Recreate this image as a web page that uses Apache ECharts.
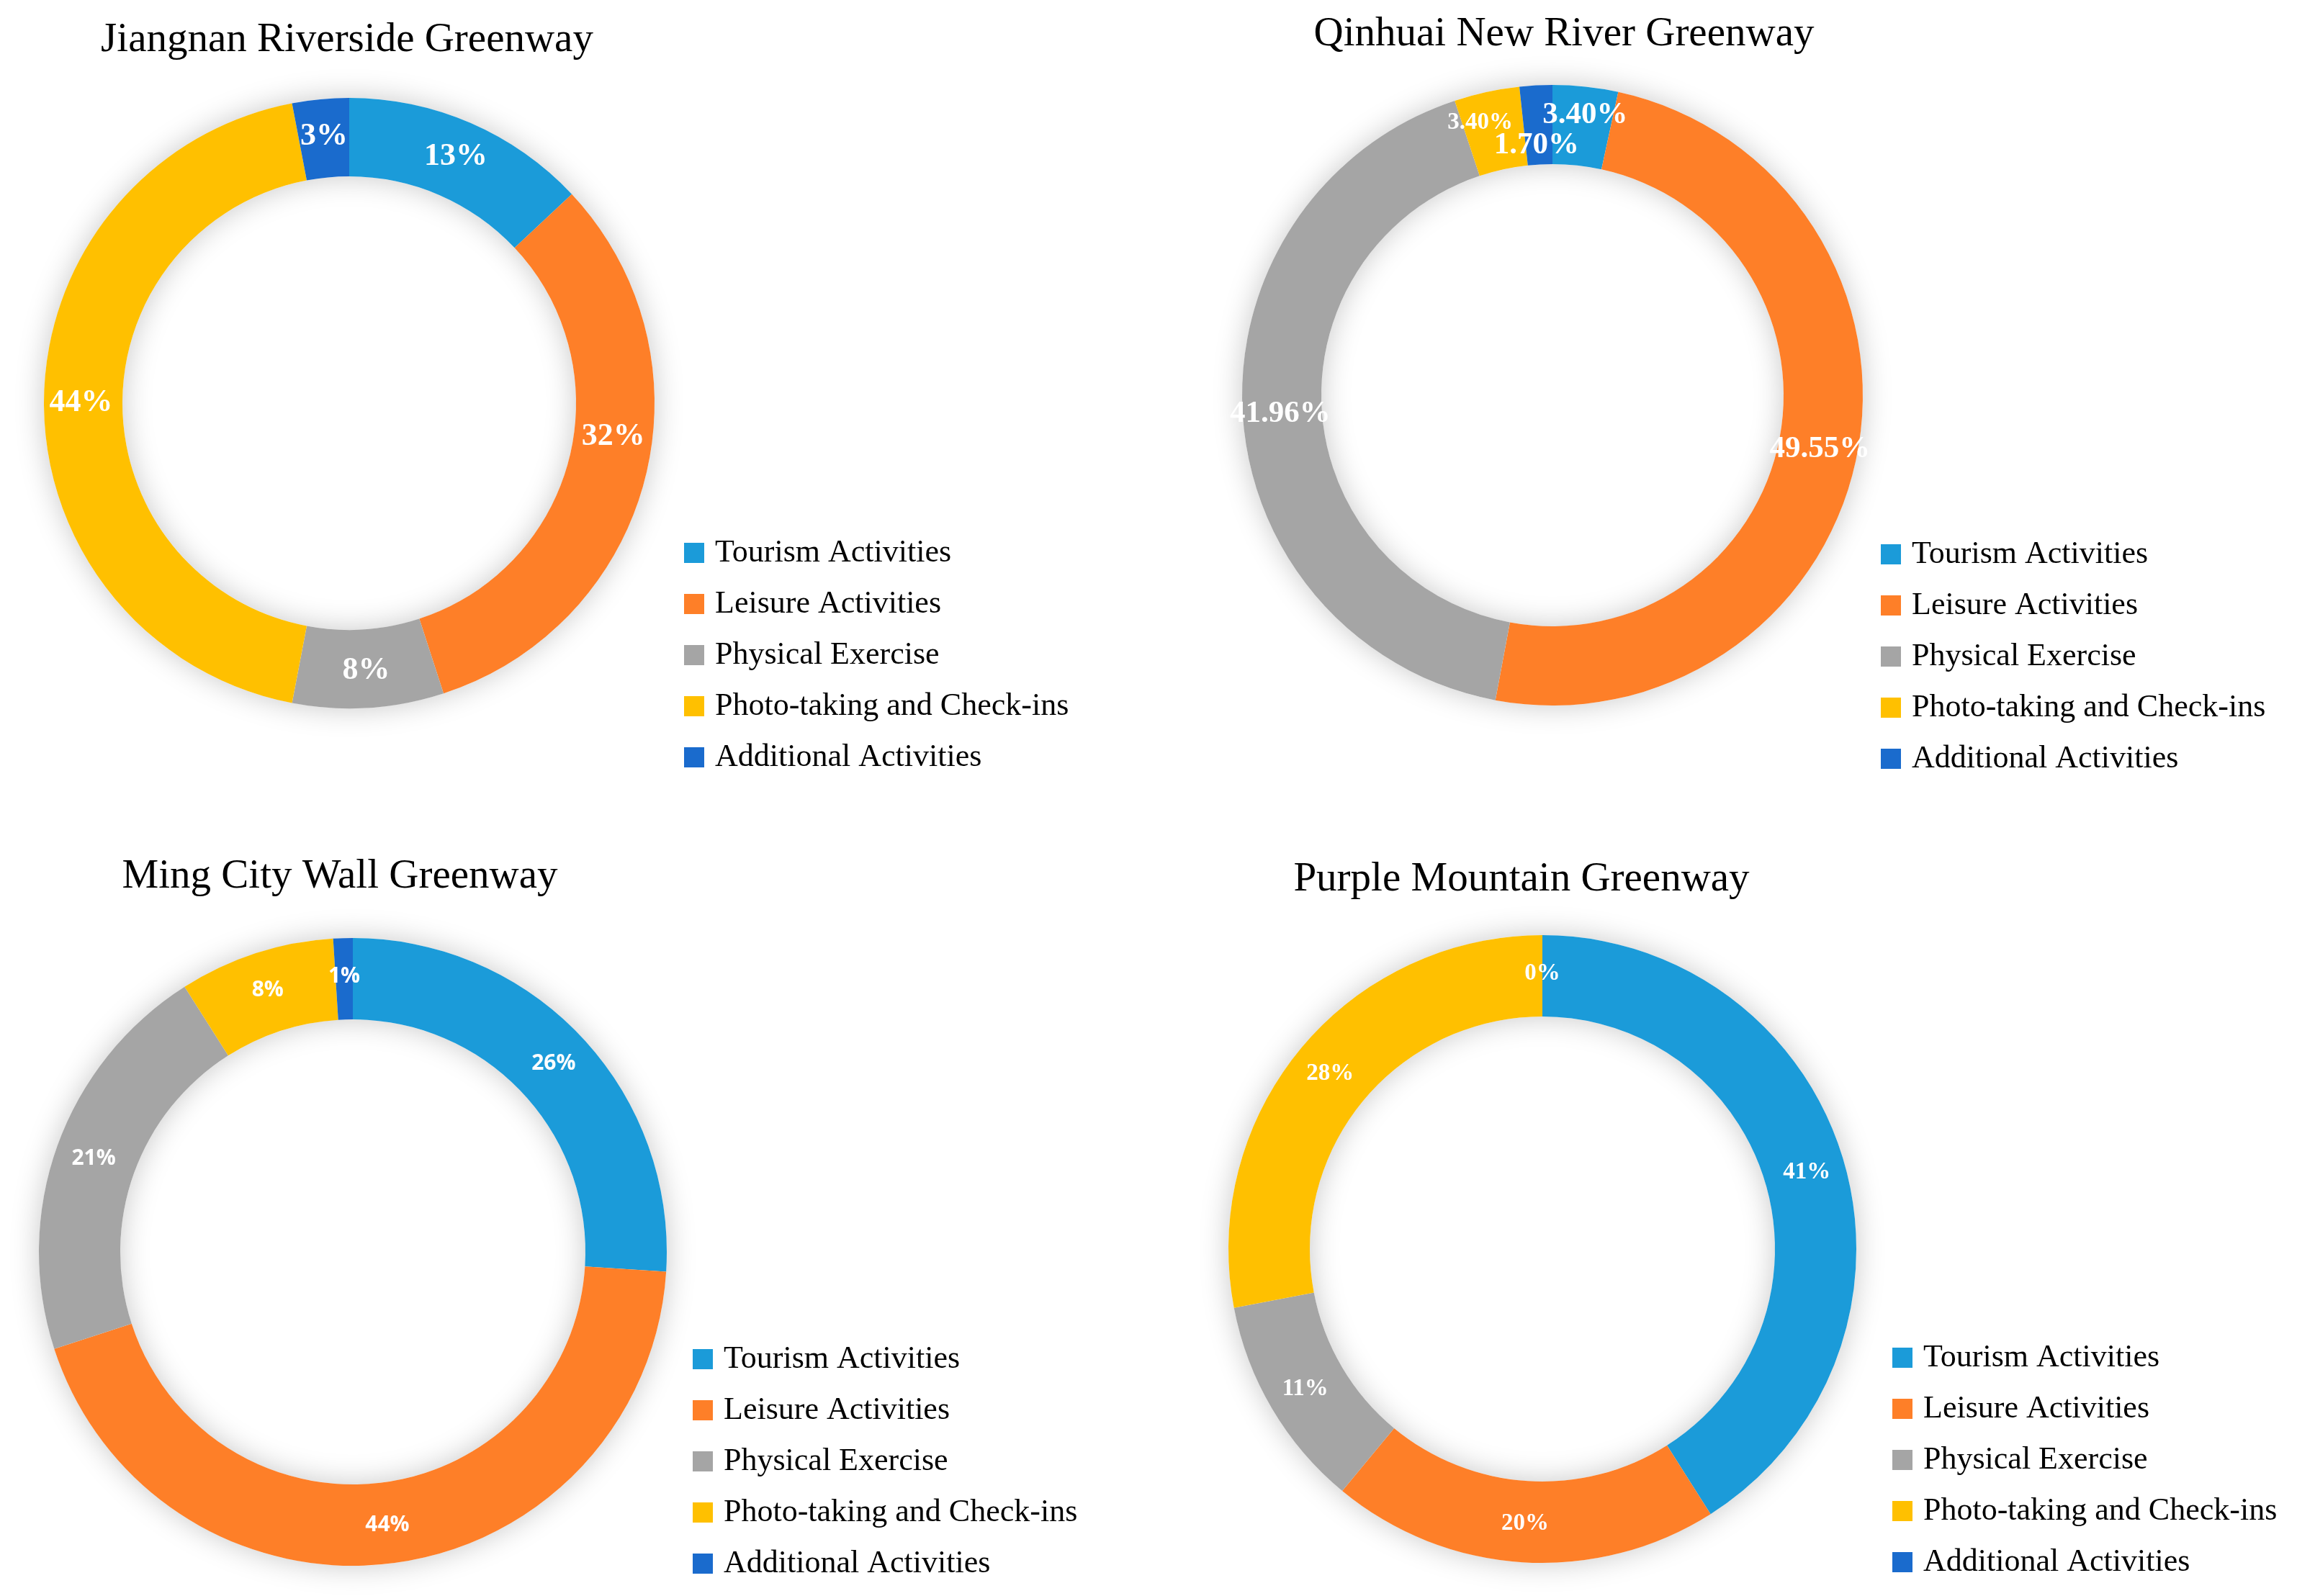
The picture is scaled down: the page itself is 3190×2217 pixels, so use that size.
<!DOCTYPE html>
<html>
<head>
<meta charset="utf-8">
<script src="https://cdn.jsdelivr.net/npm/echarts@6/dist/echarts.min.js"></script>
<style>
  html, body { margin: 0; padding: 0; background: #fff; }
  #main { width: 3190px; height: 2217px; }
</style>
</head>
<body>
<div id="main"></div>
<script>
var chart = echarts.init(document.getElementById('main'));

// activity categories (legend order = slice order, clockwise from 12 o'clock)
const categories = ['Tourism Activities', 'Leisure Activities', 'Physical Exercise', 'Photo-taking and Check-ins', 'Additional Activities'];
const titles = ['Jiangnan Riverside Greenway', 'Qinhuai New River Greenway', 'Ming City Wall Greenway', 'Purple Mountain Greenway'];

// shares in percent
const jiangnan = [13, 32, 8, 44, 3];
const qinhuai = [3.40, 49.55, 41.96, 3.40, 1.70];
const mingWall = [26, 44, 21, 8, 1];
const purpleMountain = [41, 20, 11, 28, 0];

const colors = ['#1B9BD9', '#FE7F28', '#A5A5A5', '#FFC000', '#1A6BCD'];

const serif = 'Liberation Serif';

// layout of the four panels
var panels = [
  { values: jiangnan, decimals: 0, center: [485, 560], radius: [315, 424], title: [482, 28], legend: [950, 746],
    font: { fontFamily: serif, fontWeight: 'bold', fontSize: 44 }, nudge: { 1: [6, -46] } },
  { values: qinhuai, decimals: 2, center: [2156, 549], radius: [321, 431], title: [2172, 20], legend: [2612, 748],
    font: { fontFamily: serif, fontWeight: 'bold', fontSize: 43 }, nudge: { 0: [5, -12], 3: [-20, -8], 4: [-2, 31] }, small: { 3: 33 } },
  { values: mingWall, decimals: 0, center: [490, 1739], radius: [323, 436], title: [472, 1190], legend: [962, 1866],
    font: { fontFamily: 'Open Sans', fontWeight: 'bold', fontSize: 30 }, nudge: {} },
  { values: purpleMountain, decimals: 0, center: [2142, 1735], radius: [323, 436], title: [2113, 1194], legend: [2628, 1864],
    font: { fontFamily: serif, fontWeight: 'bold', fontSize: 33 }, nudge: {} }
];

var option = {
  backgroundColor: '#fff',
  animation: false,
  color: colors,
  textStyle: { fontFamily: serif },
  title: [],
  legend: [],
  series: []
};

panels.forEach(function (p, k) {
  option.title.push({
    text: titles[k],
    left: p.title[0],
    top: p.title[1],
    textAlign: 'center',
    padding: 0,
    textStyle: { fontFamily: serif, fontWeight: 'normal', fontSize: 57, lineHeight: 57, color: '#000' }
  });

  option.legend.push({
    data: categories,
    orient: 'vertical',
    left: p.legend[0],
    top: p.legend[1],
    padding: 0,
    icon: 'rect',
    itemWidth: 28,
    itemHeight: 28,
    itemGap: 27,
    selectedMode: false,
    formatter: '{t|{name}}',
    textStyle: {
      fontFamily: serif, fontSize: 44, lineHeight: 44, color: '#000',
      rich: { t: { fontFamily: serif, fontSize: 44, lineHeight: 44, color: '#000', padding: [0, 0, 0, 10] } }
    }
  });

  // soft halo under the ring
  option.series.push({
    type: 'pie',
    silent: true,
    z: 1,
    center: p.center,
    radius: p.radius,
    label: { show: false },
    labelLine: { show: false },
    data: [{ value: 1, name: 'halo' + k, itemStyle: { color: '#fff', shadowBlur: 40, shadowColor: 'rgba(0,0,0,0.22)' } }]
  });

  option.series.push({
    type: 'pie',
    z: 2,
    center: p.center,
    radius: p.radius,
    startAngle: 90,
    clockwise: true,
    avoidLabelOverlap: false,
    labelLayout: { hideOverlap: false },
    label: Object.assign({
      show: true,
      position: 'inside',
      color: '#fff',
      formatter: function (d) { return d.value.toFixed(p.decimals) + '%'; }
    }, p.font),
    labelLine: { show: false },
    itemStyle: { borderWidth: 0 },
    data: categories.map(function (name, i) {
      var item = { name: name, value: p.values[i], itemStyle: { color: colors[i] } };
      var lab = {};
      if (p.nudge[i]) lab.offset = p.nudge[i];
      if (p.small && p.small[i]) lab.fontSize = p.small[i];
      if (Object.keys(lab).length) item.label = lab;
      return item;
    })
  });
});

option && chart.setOption(option);
</script>
</body>
</html>
